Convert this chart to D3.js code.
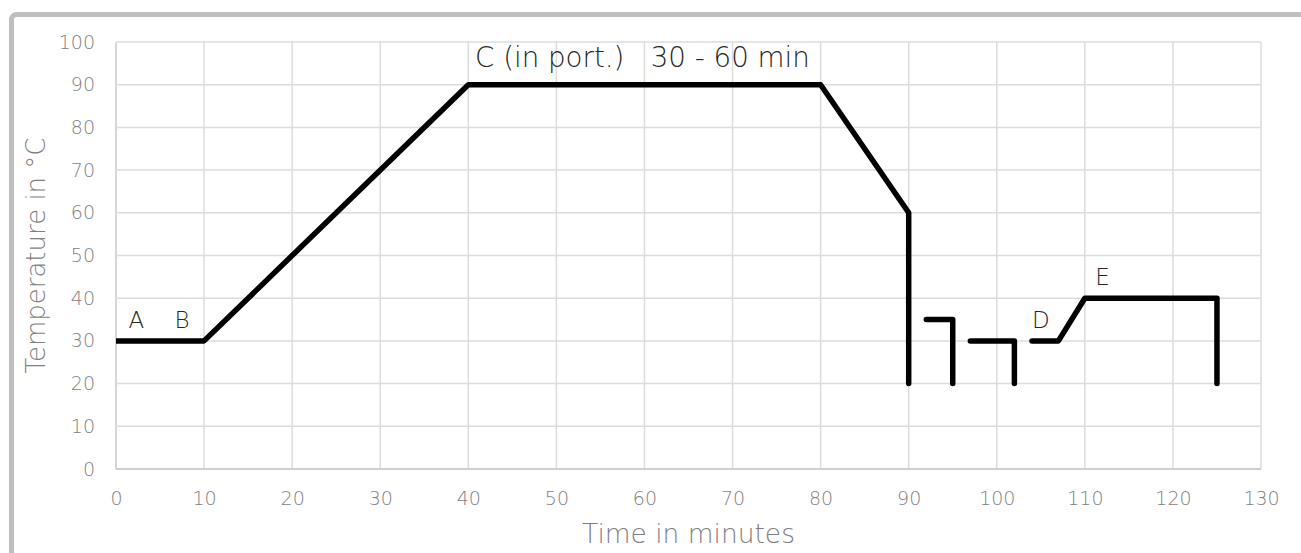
<!DOCTYPE html>
<html>
<head>
<meta charset="utf-8">
<script src="https://cdn.jsdelivr.net/npm/d3@7"></script>
<style>
  html, body { margin: 0; padding: 0; background: #fff; }
  svg { display: block; font-family: "DejaVu Sans", sans-serif; font-weight: 200; }
</style>
</head>
<body>
<svg id="chart" width="1301" height="553"></svg>
<script>
// ---- data ----
const xTicks = [0, 10, 20, 30, 40, 50, 60, 70, 80, 90, 100, 110, 120, 130];
const yTicks = [0, 10, 20, 30, 40, 50, 60, 70, 80, 90, 100];
const seg1 = [[0, 30], [10, 30], [40, 90], [80, 90], [90, 60], [90, 20]];
const seg2 = [[92, 35], [95, 35], [95, 20]];
const seg3 = [[97, 30], [102, 30], [102, 20]];
const seg4 = [[104, 30], [107, 30], [110, 40], [125, 40], [125, 20]];
const segments = [seg1, seg2, seg3, seg4];
const labels = [
  { text: "A", x: 2.3, y: 30 },
  { text: "B", x: 7.5, y: 30 },
  { text: "D", x: 105, y: 30 },
  { text: "E", x: 112, y: 40 }
];
const titleC = "C (in port.)   30 - 60 min";
const xTitle = "Time in minutes";
const yTitle = "Temperature in °C";

// ---- layout ----
const pLeft = 116, pRight = 1261, pTop = 42, pBottom = 469;
const FONT = "'DejaVu Sans', sans-serif";
const svg = d3.select("#chart");

// frame
svg.append("rect").attr("x", 11.5).attr("y", 14.5).attr("width", 1500).attr("height", 800)
  .attr("rx", 5).attr("fill", "none").attr("stroke", "#bfbfbf").attr("stroke-width", 5);

const x = d3.scaleLinear().domain([0, 130]).range([pLeft, pRight]);
const y = d3.scaleLinear().domain([0, 100]).range([pBottom, pTop]);

// grid
const grid = svg.append("g");
grid.selectAll("line.v").data(xTicks).join("line").attr("class", "v")
  .attr("x1", d => x(d)).attr("x2", d => x(d)).attr("y1", pTop).attr("y2", pBottom)
  .attr("stroke", d => d === 0 ? "#c8c8c8" : "#dcdcdc").attr("stroke-width", 1.5);
grid.selectAll("line.h").data(yTicks).join("line").attr("class", "h")
  .attr("x1", pLeft).attr("x2", pRight).attr("y1", d => y(d)).attr("y2", d => y(d))
  .attr("stroke", d => d === 0 ? "#bfbfbf" : "#dcdcdc").attr("stroke-width", 1.5);

// axes (labels only)
const xAxis = svg.append("g").attr("transform", `translate(0,${pBottom})`)
  .call(d3.axisBottom(x).tickValues(xTicks).tickSize(0).tickPadding(20));
const yAxis = svg.append("g").attr("transform", `translate(${pLeft},0)`)
  .call(d3.axisLeft(y).tickValues(yTicks).tickSize(0).tickPadding(21));
[xAxis, yAxis].forEach(a => {
  a.select(".domain").remove();
  a.selectAll("text").attr("font-size", 19).attr("fill", "#7f7f7f")
    .attr("font-family", FONT).attr("font-weight", 200);
});
xAxis.selectAll("text").attr("dy", 0).attr("y", 36);

// line
const clipId = "plotclip";
svg.append("clipPath").attr("id", clipId).append("rect")
  .attr("x", pLeft).attr("y", pTop - 10).attr("width", pRight - pLeft + 10).attr("height", pBottom - pTop + 10);
const line = d3.line().x(d => x(d[0])).y(d => y(d[1]));
svg.append("g").attr("clip-path", `url(#${clipId})`)
  .selectAll("path").data(segments).join("path")
  .attr("d", line).attr("fill", "none").attr("stroke", "#000")
  .attr("stroke-width", 5.5).attr("stroke-linecap", "round").attr("stroke-linejoin", "round");

// helper to fit width
function fit(sel, target) {
  const node = sel.node();
  const fs = parseFloat(sel.attr("font-size"));
  const w = node.getComputedTextLength();
  if (w > 0) sel.attr("font-size", fs * target / w);
}

// annotations
svg.selectAll("text.lab").data(labels).join("text").attr("class", "lab")
  .attr("x", d => x(d.x)).attr("y", d => y(d.y) - 13)
  .attr("text-anchor", "middle").attr("font-size", 23).attr("fill", "#262626")
  .text(d => d.text);

const c = svg.append("text").attr("x", 475).attr("y", 67).attr("font-size", 24)
  .attr("fill", "#262626").style("white-space", "pre").text(titleC);
fit(c, 335);

const xt = svg.append("text").attr("x", (pLeft + pRight) / 2).attr("y", 543)
  .attr("text-anchor", "middle").attr("font-size", 24).attr("fill", "#7f7f7f").text(xTitle);
fit(xt, 213);

const yt = svg.append("text").attr("transform", `translate(45,${(pTop + pBottom) / 2}) rotate(-90)`)
  .attr("text-anchor", "middle").attr("font-size", 24).attr("fill", "#7f7f7f").text(yTitle);
fit(yt, 236);
</script>
</body>
</html>
